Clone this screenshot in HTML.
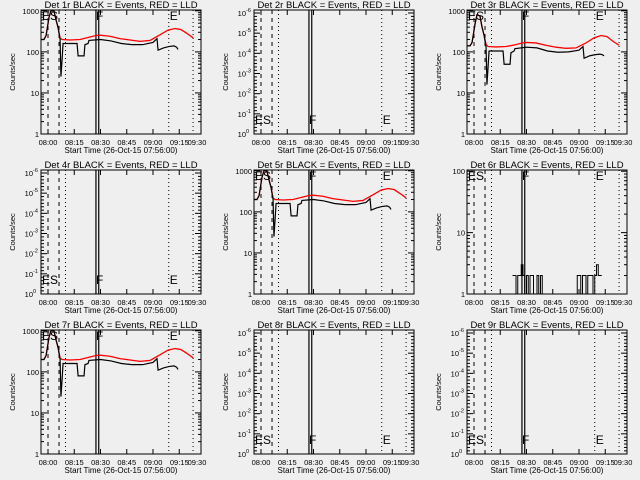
<!DOCTYPE html>
<html><head><meta charset="utf-8"><style>
body{margin:0;background:#efefef;width:640px;height:480px;overflow:hidden}
svg{display:block;font-family:"Liberation Sans",sans-serif}
</style></head><body>
<svg id="c" width="640" height="480"></svg>
<script>
// time in minutes after 07:56:00
const redT1=[0,1.7,2.9,4.6,5.7,7.4,8.6,9.7,10.9,12,16.6,22.3,28,31.4,33.7,39.4,45,50.9,56.6,62.3,68,72.6,76.6,80,83.5,86.9];
const redV1=[200,200,250,700,1000,1000,600,400,220,200,195,200,230,250,255,240,210,195,180,190,260,340,370,350,280,220];
const blkT1=[0,1.7,2.9,4.6,5.7,7.4,8.6,9.7,10.9,11.4,12,12.6,20.6,21.2,24.6,25.1,26.9,27.4,34,40,46,52,58,64,66.3,66.9,70,73,76,77.5,78.3];
const blkV1=[200,200,250,700,1000,1000,600,400,200,25,60,160,160,80,80,150,160,190,200,185,160,150,150,170,210,110,125,135,140,130,115];
const redV3=[140,140,170,480,800,750,400,260,150,135,132,135,150,165,170,165,145,130,122,125,165,220,250,235,180,145];
const blkV3=[140,140,170,480,800,750,400,260,130,16,40,105,105,50,50,95,105,120,130,125,105,98,100,110,135,70,80,85,88,85,80];
const noiseT6a=[26,27,28,29,30,31,32,33,34,35,36,37,38,39,40,41,42,43];
const noiseV6a=[2,2,1,2,2,3,2,1,2,1,2,2,1,1,2,1,2,1];
const noiseT6b=[62,63,64,65,66,67,68,69,70,71,72,73,74,75,76];
const noiseV6b=[1,2,2,1,2,2,1,2,2,2,1,2,3,2,2];
const xTickLabels=["08:00","08:15","08:30","08:45","09:00","09:15","09:30"];
const xTickMins=[4,19,34,49,64,79,94];
const titles=["Det 1r","Det 2r","Det 3r","Det 4r","Det 5r","Det 6r","Det 7r","Det 8r","Det 9r"];
const kinds=["data1","empty","data3","empty","data1","noise","data1","empty","empty"];

const NS="http://www.w3.org/2000/svg",svg=document.getElementById('c');
function mk(t,a,p){const e=document.createElementNS(NS,t);for(const k in a)e.setAttribute(k,a[k]);(p||svg).appendChild(e);return e;}
const X0=41,X1=201,Y0=10,Y1=134;
function xs(t){return X0+t*1.75;}

for(let i=0;i<9;i++){
  const ox=(i%3)*213, oy=Math.floor(i/3)*160, kind=kinds[i];
  const g=mk('g',{transform:`translate(${ox},${oy})`});
  
  
  const ymax= kind.startsWith('data')?3.02:(kind==='noise'?2.02:0);
  const ys=v=>Y1-(Math.log10(v)/ymax)*(Y1-Y0);
  const tt=mk('text',{x:121,y:8,'font-size':9.5,'text-anchor':'middle'},g);tt.textContent=titles[i]+" BLACK = Events, RED = LLD";
  
  const yl=mk('text',{x:0,y:0,'font-size':7.5,'text-anchor':'middle',transform:'translate(15,72) rotate(-90)'},g);yl.textContent="Counts/sec";
  
  const xl=mk('text',{x:121,y:153,'font-size':8,'text-anchor':'middle'},g);xl.textContent="Start Time (26-Oct-15 07:56:00)";
  
  xTickMins.forEach((m,k)=>{const x=Math.min(xs(m),197);
    if(xs(m)<=X1){mk('line',{x1:xs(m),x2:xs(m),y1:Y1,y2:Y1-5,stroke:'#000'},g);mk('line',{x1:xs(m),x2:xs(m),y1:Y0,y2:Y0+5,stroke:'#000'},g);}
    const t=mk('text',{x:x,y:145,'font-size':7.5,'text-anchor':'middle'},g);t.textContent=xTickLabels[k];
    });
  if(ymax>0){
    for(let d=0;d<=Math.floor(ymax);d++){const y=ys(Math.pow(10,d));
      mk('line',{x1:X0,x2:X0+6,y1:y,y2:y,stroke:'#000'},g);mk('line',{x1:X1,x2:X1-6,y1:y,y2:y,stroke:'#000'},g);
      const t=mk('text',{x:X0-2,y:y+3,'font-size':7.5,'text-anchor':'end'},g);t.textContent=String(Math.pow(10,d));
      
      for(let m=2;m<10;m++){const v=m*Math.pow(10,d);if(Math.log10(v)>ymax)break;const yy=ys(v);
        mk('line',{x1:X0,x2:X0+3,y1:yy,y2:yy,stroke:'#000'},g);mk('line',{x1:X1,x2:X1-3,y1:yy,y2:yy,stroke:'#000'},g);}}
  } else {
    const exps=[-6,-5,-4,-3,-2,-1,0];
    exps.forEach((e,k)=>{const y=Y0+3+k*(Y1-Y0-3)/6;
      mk('line',{x1:X0,x2:X0+6,y1:y,y2:y,stroke:'#000'},g);mk('line',{x1:X1,x2:X1-6,y1:y,y2:y,stroke:'#000'},g);
      for(let m=1;m<6;m++){const yy=y+m*3.4;if(yy<Y1){mk('line',{x1:X0,x2:X0+3,y1:yy,y2:yy,stroke:'#000'},g);mk('line',{x1:X1,x2:X1-3,y1:yy,y2:yy,stroke:'#000'},g);}}
      const t=mk('text',{x:X0-8,y:y+3,'font-size':7.5,'text-anchor':'end'},g);t.textContent="10";
      
      const s=mk('text',{x:X0-8,y:y-1,'font-size':5.5},g);s.textContent=e===0?"0":String(e);});
  }
  [4,10.3].forEach(m=>mk('line',{x1:xs(m),x2:xs(m),y1:Y0,y2:Y1,stroke:'#000','stroke-dasharray':'4,4'},g));
  [14,73,86.9].forEach(m=>mk('line',{x1:xs(m),x2:xs(m),y1:Y0,y2:Y1,stroke:'#000','stroke-dasharray':'1,3'},g));
  [31.4,33].forEach(m=>mk('line',{x1:xs(m),x2:xs(m),y1:Y0,y2:Y1,stroke:'#000','stroke-width':1.2},g));
  const ly= (kind==='empty')?124:20;
  [["ES",xs(0)+1],["F",xs(31.4)],["E",xs(73)+1]].forEach(([s,x])=>{const t=mk('text',{x:x,y:ly,'font-size':12},g);t.textContent=s;
    });
  if(kind.startsWith('data')){
    const rv=kind==='data3'?redV3:redV1, bv=kind==='data3'?blkV3:blkV1;
    const rp=redT1.map((t,k)=>xs(t)+','+ys(rv[k])).join(' ');
    const r=mk('polyline',{points:rp,fill:'none',stroke:'#ff0000','stroke-width':1.3},g);
    
    const bp=blkT1.map((t,k)=>xs(t)+','+ys(bv[k])).join(' ');
    const b=mk('polyline',{points:bp,fill:'none',stroke:'#000','stroke-width':1.2},g);
    
  } else if(kind==='noise'){
    [[noiseT6a,noiseV6a],[noiseT6b,noiseV6b]].forEach(([T,V])=>{let p=[];
      T.forEach((t,k)=>{p.push(xs(t)+','+ys(V[k]));p.push(xs(t+1)+','+ys(V[k]));});
      const b=mk('polyline',{points:p.join(' '),fill:'none',stroke:'#000'},g);
      });
  }
  const fr=mk('rect',{x:X0,y:Y0,width:X1-X0,height:Y1-Y0,fill:'none',stroke:'#000'},g);
  
}
</script>
</body></html>
